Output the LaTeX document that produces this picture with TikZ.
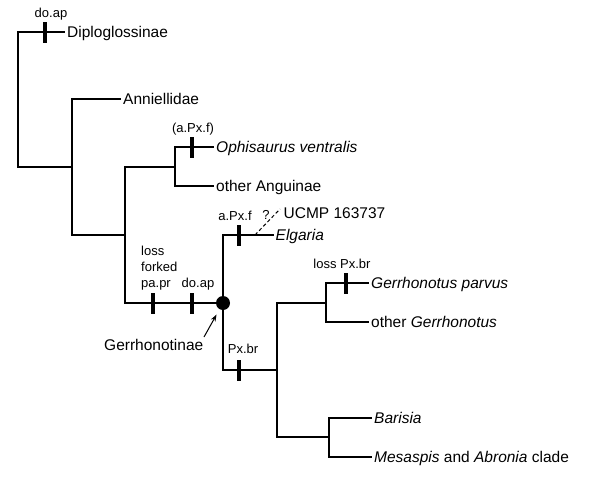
\documentclass[tikz,border=0pt]{standalone}
\usepackage{fontspec}
\setmainfont{Liberation Sans}
\usetikzlibrary{arrows.meta}
\begin{document}
\begin{tikzpicture}[x=1pt,y=-1pt,
  br/.style={line width=1.3pt, line cap=rect},
  leaf/.style={anchor=west, inner xsep=2.5pt, inner ysep=0pt, text height=10pt, text depth=0pt, font=\fontsize{15.5}{18}\selectfont},
  lbl/.style={anchor=base, inner sep=0pt, font=\fontsize{13}{16}\selectfont},
  tickmark/.style={fill=black, draw=none, inner sep=0pt, minimum width=3.4pt, minimum height=21pt},
  dotnode/.style={circle, fill=black, inner sep=0pt, minimum size=14pt},
  arr/.style={line width=1pt, -{Stealth[length=7pt,width=5pt]}},
  dashline/.style={line width=1pt, dash pattern=on 3.5pt off 2.5pt}
]
\useasboundingbox (0,0) rectangle (600,479);

% internal nodes
\coordinate (root) at (18,167);
\coordinate (n1) at (72,167);
\coordinate (n2) at (125,235);
\coordinate (ang) at (175,167);
\coordinate (ger) at (223,303);
\coordinate (n3) at (277,370);
\coordinate (n4) at (326,303);
\coordinate (n5) at (329,437);

% leaves
\node[leaf] (dip) at (64.5,32) {Diploglossinae};
\node[leaf] (ann) at (120.5,99) {Anniellidae};
\node[leaf] (oph) at (213.5,147) {\itshape Ophisaurus ventralis};
\node[leaf] (oang) at (213.5,186) {other Anguinae};
\node[leaf] (elg) at (273,235) {\itshape Elgaria};
\node[leaf] (ucmp) at (281,213) {UCMP 163737};
\node[leaf] (gpar) at (368.5,283) {\itshape Gerrhonotus parvus};
\node[leaf] (oger) at (368.5,322) {other \textit{Gerrhonotus}};
\node[leaf] (bar) at (371.5,418) {\itshape Barisia};
\node[leaf] (mes) at (371.5,457) {\textit{Mesaspis} and \textit{Abronia} clade};

% branches
\draw[br] (root) |- (dip.west);
\draw[br] (root) -- (n1);
\draw[br] (n1) |- (ann.west);
\draw[br] (n1) |- (n2);
\draw[br] (n2) |- (ang);
\draw[br] (n2) |- (ger);
\draw[br] (ang) |- (oph.west);
\draw[br] (ang) |- (oang.west);
\draw[br] (ger) |- (elg.west);
\draw[br] (ger) |- (n3);
\draw[br] (n3) |- (n4);
\draw[br] (n3) |- (n5);
\draw[br] (n4) |- (gpar.west);
\draw[br] (n4) |- (oger.west);
\draw[br] (n5) |- (bar.west);
\draw[br] (n5) |- (mes.west);

% Gerrhonotinae node
\node[dotnode] (dot) at (ger) {};

% character ticks
\node[tickmark] (t1) at (45,32) {};
\node[tickmark] (t2) at (192,147) {};
\node[tickmark] (t3) at (239,235) {};
\node[tickmark] (t4) at (153,303) {};
\node[tickmark] (t5) at (192,303) {};
\node[tickmark] (t6) at (239,370) {};
\node[tickmark] (t7) at (346,283) {};

% tick labels
\node[lbl] (l1) at (51,17) {do.ap};
\node[lbl] (l2) at (193,132) {(a.Px.f)};
\node[lbl] (l3) at (235,220) {a.Px.f};
\node[lbl, anchor=base west] (l4a) at (141,255) {loss};
\node[lbl, anchor=base west] (l4b) at (141,271) {forked};
\node[lbl, anchor=base west] (l4c) at (141,287) {pa.pr};
\node[lbl] (l5) at (198,287) {do.ap};
\node[lbl] (l6) at (243,353) {Px.br};
\node[lbl] (l7) at (342,268) {loss Px.br};

% UCMP uncertain placement
\node[lbl] (q) at (266,219) {?};
\coordinate (dq1) at (255,235);
\coordinate (dq2) at (280,209);
\draw[dashline] (dq1) -- (dq2);

% Gerrhonotinae label and arrow
\node[anchor=base west, inner sep=0pt, font=\fontsize{15.5}{18}\selectfont] (gerr) at (104,350) {Gerrhonotinae};
\coordinate (atail) at (204,337);
\draw[arr, shorten >=6pt] (atail) -- (dot);
\end{tikzpicture}
\end{document}
